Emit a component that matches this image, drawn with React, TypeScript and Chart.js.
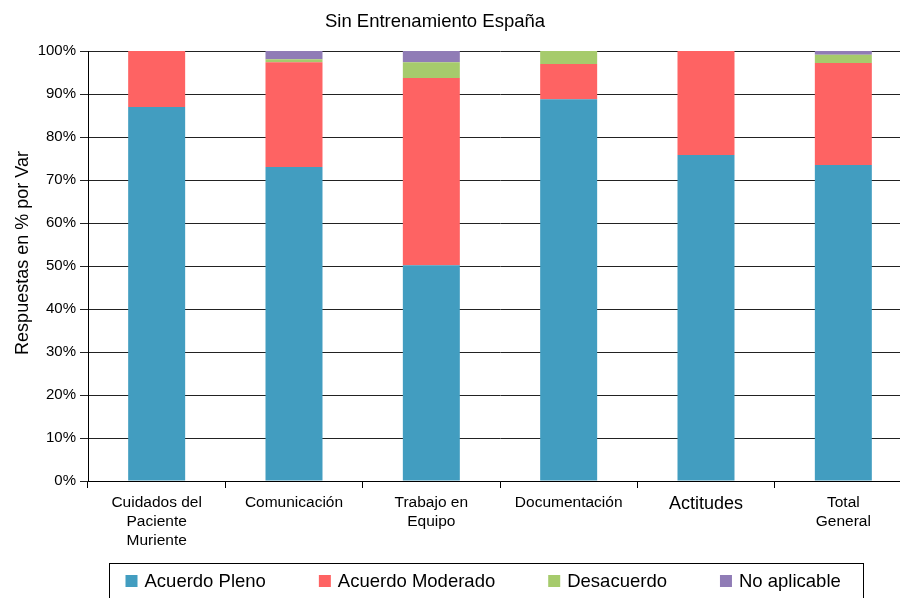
import React, { useEffect, useRef } from "react";
import { Chart, registerables } from "chart.js";

Chart.register(...registerables);

const categories: (string | string[])[] = [
  ["Cuidados del", "Paciente", "Muriente"],
  "Comunicación",
  ["Trabajo en", "Equipo"],
  "Documentación",
  "Actitudes",
  ["Total", "General"],
];
const acuerdoPleno = [87.0, 73.0, 50.2, 88.8, 75.8, 73.5];
const acuerdoModerado = [13.0, 24.4, 43.5, 8.2, 24.2, 23.7];
const desacuerdo = [0, 0.7, 3.7, 3.0, 0, 1.9];
const noAplicable = [0, 1.9, 2.6, 0, 0, 0.9];
const seriesNames = ["Acuerdo Pleno", "Acuerdo Moderado", "Desacuerdo", "No aplicable"];
const seriesColors = ["#429dc0", "#fe6363", "#a6cb6c", "#907cb6"];
const yTicks = [0, 10, 20, 30, 40, 50, 60, 70, 80, 90, 100];
const chartTitle = "Sin Entrenamiento España";
const yTitle = "Respuestas en % por Var";

const FONT = "'Liberation Sans', Arial, Helvetica, sans-serif";

const overlayPlugin = {
  id: "overlay",
  afterDraw(chart: any) {
    const ctx = chart.ctx;
    ctx.save();
    // title
    ctx.fillStyle = "#000";
    ctx.font = `18.5px ${FONT}`;
    ctx.textAlign = "center";
    ctx.textBaseline = "middle";
    ctx.fillText(chartTitle, 435, 22);

    // y axis title
    ctx.save();
    ctx.translate(23, 253);
    ctx.rotate(-Math.PI / 2);
    ctx.font = `18px ${FONT}`;
    ctx.fillText(yTitle, 0, 0);
    ctx.restore();

    // legend
    const boxL = 109.5, boxR = 863.5, boxT = 563.5, boxB = 610;
    ctx.strokeStyle = "#000";
    ctx.lineWidth = 1;
    ctx.strokeRect(boxL, boxT, boxR - boxL, boxB - boxT);
    ctx.font = `18.5px ${FONT}`;
    ctx.textAlign = "left";
    const sq = 12, gapST = 7, gapItem = 53;
    let x = boxL + 16;
    const cy = 581;
    chart.data.datasets.forEach((d: any) => {
      ctx.fillStyle = d.backgroundColor;
      ctx.fillRect(x, cy - sq / 2, sq, sq);
      ctx.fillStyle = "#000";
      ctx.fillText(d.label, x + sq + gapST, cy + 1);
      x += sq + gapST + ctx.measureText(d.label).width + gapItem;
    });
    ctx.restore();
  },
};

export default function App() {
  const ref = useRef<HTMLCanvasElement>(null);
  useEffect(() => {
    if (!ref.current) return;
    const seriesData = [acuerdoPleno, acuerdoModerado, desacuerdo, noAplicable];
    const chart = new Chart(ref.current, {
      type: "bar",
      data: {
        labels: categories as any,
        datasets: seriesNames.map((name, i) => ({
          label: name,
          data: seriesData[i],
          backgroundColor: seriesColors[i],
          borderWidth: 0,
          barPercentage: 0.415,
          categoryPercentage: 1,
        })),
      },
      options: {
        responsive: false,
        animation: false,
        devicePixelRatio: 1,
        layout: { padding: { top: 51, left: 0, right: 3, bottom: 47 } },
        plugins: {
          legend: { display: false },
          title: { display: false },
          tooltip: { enabled: false },
        },
        scales: {
          x: {
            stacked: true,
            afterFit: (s: any) => { s.height = 70; },
            grid: {
              offset: true,
              drawOnChartArea: false,
              drawTicks: true,
              tickLength: 7,
              color: "#000",
            },
            border: { color: "#000", width: 1 },
            ticks: {
              color: "#000",
              padding: 5,
              maxRotation: 0,
              autoSkip: false,
              font: (c: any) =>
                c.index === 4
                  ? { family: FONT, size: 18, lineHeight: 1.2 }
                  : { family: FONT, size: 15.5, lineHeight: 1.24 },
            },
          },
          y: {
            stacked: true,
            min: 0,
            max: 100,
            afterFit: (s: any) => { s.width = 88; },
            afterBuildTicks: (s: any) => { s.ticks = yTicks.map((v) => ({ value: v })); },
            grid: { color: "#222", lineWidth: 1, tickLength: 8 },
            border: { color: "#000", width: 1 },
            ticks: {
              color: "#000",
              padding: 4,
              font: { family: FONT, size: 15 },
              callback: (v: any) => `${v}%`,
            },
          },
        },
      },
      plugins: [overlayPlugin],
    });
    return () => chart.destroy();
  }, []);
  return (
    <div style={{ position: "fixed", left: 0, top: 0, width: 900, height: 598, overflow: "hidden", background: "#fff" }}>
      <canvas ref={ref} width={915} height={598} style={{ display: "block" }} />
    </div>
  );
}
